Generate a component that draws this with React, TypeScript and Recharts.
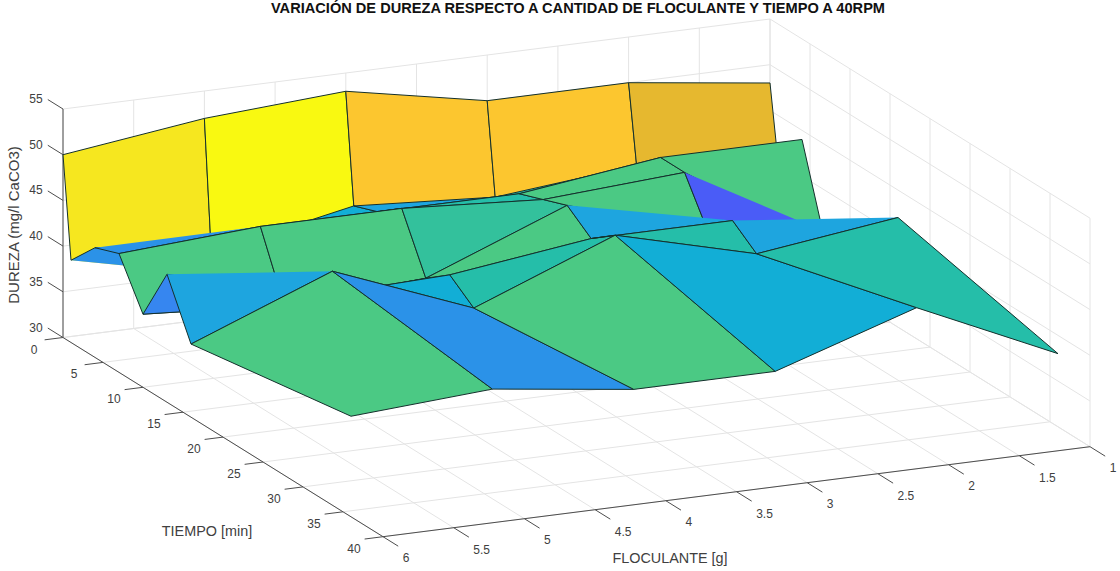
import React from "react";
import { ScatterChart, Scatter, XAxis, YAxis } from "recharts";

const W = 1120;
const H = 571;

const TITLE = "VARIACIÓN DE DUREZA RESPECTO A CANTIDAD DE FLOCULANTE Y TIEMPO A 40RPM";

// grid of the surface
const floculante = [6, 5, 4, 3, 2, 1];
const tiempo = [0, 1, 4, 7, 10, 13, 16, 36];
const durezaT0 = [50, 52, 53, 50, 50, 48];
const durezaT1 = [39, 35.5, 41, 40, 41.5, 40];
const durezaT4 = [42, 40.4, 42, 42, 44, 44];
const durezaT7 = [43, 44, 44, 43, 44, 34];
const durezaT10 = [38, 37, 38, 44, 39, 36];
const durezaT13 = [44, 39.5, 40, 42, 42, 39];
const durezaT16 = [38, 44, 38, 44, 40, 42];
const durezaT36 = [41, 42, 40, 40, 45, 38];
const durezaRows = [durezaT0, durezaT1, durezaT4, durezaT7, durezaT10, durezaT13, durezaT16, durezaT36];

// axis ticks
const flocTicks = [6, 5.5, 5, 4.5, 4, 3.5, 3, 2.5, 2, 1.5, 1];
const timeTicks = [0, 5, 10, 15, 20, 25, 30, 35, 40];
const durezaTicks = [30, 35, 40, 45, 50, 55];

// faces: [row, col] corners painted back to front; "open" leaves the closing side without an edge
const GOLD = "#e6b82f";
const ORANGE = "#fcc62f";
const GREEN = "#4bc984";
const TEAL = "#25bea9";
const MINT = "#33c19c";
const SKY = "#1ea5df";
const AZURE = "#2b92e8";
const CYAN = "#12aed6";
const INDIGO = "#4a5cf7";
const ROYAL = "#3686f0";

type Face = { c: number[][]; color: string; open?: boolean };
const faces: Face[] = [
  { c: [[1, 0], [0, 0], [0, 1], [1, 1]], color: "#f6e71f", open: true },
  { c: [[1, 1], [0, 1], [0, 2], [1, 2]], color: "#f9f911", open: true },
  { c: [[1, 2], [0, 2], [0, 3], [1, 3]], color: ORANGE, open: true },
  { c: [[1, 3], [0, 3], [0, 4], [1, 4]], color: ORANGE, open: true },
  { c: [[1, 4], [0, 4], [0, 5], [1, 5]], color: GOLD, open: true },
  { c: [[1, 1], [2, 1], [2, 0], [1, 0]], color: AZURE, open: true },
  { c: [[2, 1], [1, 2], [2, 2]], color: CYAN },
  { c: [[1, 2], [1, 3], [2, 3], [2, 2]], color: SKY },
  { c: [[1, 3], [1, 4], [2, 4], [2, 3]], color: TEAL },
  { c: [[2, 0], [3, 0], [3, 1]], color: AZURE, open: true },
  { c: [[2, 1], [2, 2], [3, 2], [3, 1]], color: CYAN },
  { c: [[2, 2], [2, 3], [3, 3], [3, 2]], color: TEAL },
  { c: [[2, 3], [2, 4], [3, 4], [3, 3]], color: GREEN },
  { c: [[2, 4], [2, 5], [3, 5], [3, 4]], color: GREEN },
  { c: [[3, 0], [3, 1], [4, 1], [4, 0]], color: GREEN },
  { c: [[3, 1], [3, 2], [4, 2], [4, 1]], color: GREEN },
  { c: [[3, 2], [3, 3], [4, 3], [4, 2]], color: MINT },
  { c: [[3, 3], [3, 4], [4, 4], [4, 3]], color: GREEN },
  { c: [[3, 4], [4, 4], [4, 5]], color: INDIGO, open: true },
  { c: [[4, 0], [4, 1], [5, 1], [5, 0]], color: ROYAL },
  { c: [[4, 1], [4, 2], [5, 2], [5, 1]], color: CYAN },
  { c: [[4, 2], [4, 3], [5, 3], [5, 2]], color: GREEN },
  { c: [[4, 3], [5, 3], [5, 4]], color: SKY, open: true },
  { c: [[5, 1], [5, 2], [6, 2], [6, 1]], color: CYAN },
  { c: [[5, 0], [6, 0], [6, 1]], color: SKY, open: true },
  { c: [[5, 2], [5, 3], [6, 3], [6, 2]], color: TEAL },
  { c: [[5, 3], [5, 4], [6, 4], [6, 3]], color: TEAL },
  { c: [[5, 4], [6, 4], [6, 5]], color: SKY, open: true },
  { c: [[6, 0], [6, 1], [7, 1], [7, 0]], color: GREEN },
  { c: [[6, 1], [6, 2], [7, 2], [7, 1]], color: AZURE },
  { c: [[6, 2], [6, 3], [7, 3], [7, 2]], color: GREEN },
  { c: [[6, 3], [6, 4], [7, 4], [7, 3]], color: CYAN },
  { c: [[6, 4], [6, 5], [7, 5], [7, 4]], color: TEAL },
];

// the fixed camera of the 3-D view
const project = (f: number, t: number, z: number) => ({
  x: 63 + 141.4 * (6 - f) + 8 * t,
  y: 337.5 - 18 * (6 - f) + 4.98 * t - 9.14 * (z - 30),
});

const corner = ([r, c]: number[]) => project(floculante[c], tiempo[r], durezaRows[r][c]);

const EDGE = "#14302c";
const GRID = "#e4e4e4";
const AXIS = "#4d4d4d";
const TEXT = "#404040";
const SANS = "'Liberation Sans', Arial, sans-serif";

const noDot = () => null;

const seg = (a: any, b: any, stroke: string, key: string) => (
  <Scatter
    key={key}
    data={[a, b]}
    isAnimationActive={false}
    shape={noDot}
    line={{ stroke, strokeWidth: 1 }}
    legendType="none"
  />
);

const gridSegs: React.ReactNode[] = [];
flocTicks.forEach((f) => {
  gridSegs.push(seg(project(f, 0, 30), project(f, 40, 30), GRID, `gf${f}`));
  gridSegs.push(seg(project(f, 0, 30), project(f, 0, 55), GRID, `wf${f}`));
});
timeTicks.forEach((t) => {
  gridSegs.push(seg(project(6, t, 30), project(1, t, 30), GRID, `gt${t}`));
  gridSegs.push(seg(project(1, t, 30), project(1, t, 55), GRID, `wt${t}`));
});
durezaTicks.forEach((z) => {
  gridSegs.push(seg(project(6, 0, z), project(1, 0, z), GRID, `wz${z}`));
  gridSegs.push(seg(project(1, 0, z), project(1, 40, z), GRID, `sz${z}`));
});

const axisSegs: React.ReactNode[] = [
  seg(project(6, 0, 30), project(6, 0, 55), AXIS, "zAxis"),
  seg(project(6, 0, 30), project(6, 40, 30), AXIS, "tAxis"),
  seg(project(6, 40, 30), project(1, 40, 30), AXIS, "fAxis"),
];
durezaTicks.forEach((z) => axisSegs.push(seg(project(6, 0, z), project(6, -1.9, z), AXIS, `tz${z}`)));
timeTicks.forEach((t) => axisSegs.push(seg(project(6, t, 30), project(6.13, t, 30), AXIS, `tt${t}`)));
flocTicks.forEach((f) => axisSegs.push(seg(project(f, 40, 30), project(f, 41.9, 30), AXIS, `tf${f}`)));

const faceLine = (face: Face) => (p: any) => {
  const pts: { x: number; y: number }[] = p.points;
  const str = pts.map((q) => `${q.x},${q.y}`).join(" ");
  return (
    <g>
      <polygon points={str} fill={face.color} stroke="none" />
      {face.open ? (
        <polyline points={str} fill="none" stroke={EDGE} strokeWidth={1} />
      ) : (
        <polygon points={str} fill="none" stroke={EDGE} strokeWidth={1} />
      )}
    </g>
  );
};

type Label = { x: number; y: number; text: string; size?: number; bold?: boolean; rotate?: number };
const labels: Label[] = [
  { x: 578, y: 8, text: TITLE, size: 14.6, bold: true },
  { x: 13, y: 225, text: "DUREZA (mg/l CaCO3)", size: 15, rotate: -90 },
  { x: 207, y: 531, text: "TIEMPO [min]", size: 14.4 },
  { x: 670, y: 558, text: "FLOCULANTE [g]", size: 14.4 },
  ...durezaTicks.map((z) => {
    const p = project(6, 0, z);
    return { x: 36, y: p.y - 10, text: String(z) };
  }),
  ...timeTicks.map((t) => {
    const p = project(6, t, 30);
    return { x: p.x - 29, y: p.y + 12, text: String(t) };
  }),
  ...flocTicks.map((f) => {
    const p = project(f, 40, 30);
    const half = f % 1 !== 0;
    return { x: p.x + (half ? 28 : 23), y: p.y + (half ? 22 : 21), text: String(f) };
  }),
];

const LabelShape = (p: any) => {
  const d: Label = p.payload;
  return (
    <text
      x={p.cx}
      y={p.cy}
      textAnchor="middle"
      dominantBaseline="central"
      fontFamily={SANS}
      fontSize={d.size ?? 12}
      fontWeight={d.bold ? 700 : 400}
      fill={d.bold ? "#111111" : TEXT}
      transform={d.rotate ? `rotate(${d.rotate} ${p.cx} ${p.cy})` : undefined}
    >
      {d.text}
    </text>
  );
};

export default function App() {
  return (
    <div style={{ position: "absolute", left: 0, top: 0, width: W, height: H, background: "#fff" }}>
      <ScatterChart width={W} height={H} margin={{ top: 0, right: 0, bottom: 0, left: 0 }}>
        <XAxis type="number" dataKey="x" domain={[0, W]} hide />
        <YAxis type="number" dataKey="y" domain={[0, H]} reversed hide />
        {gridSegs}
        {axisSegs}
        {faces.map((face, i) => (
          <Scatter
            key={`face${i}`}
            data={face.c.map(corner)}
            isAnimationActive={false}
            shape={noDot}
            line={faceLine(face)}
          />
        ))}
        <Scatter data={labels} isAnimationActive={false} shape={LabelShape} />
      </ScatterChart>
    </div>
  );
}
